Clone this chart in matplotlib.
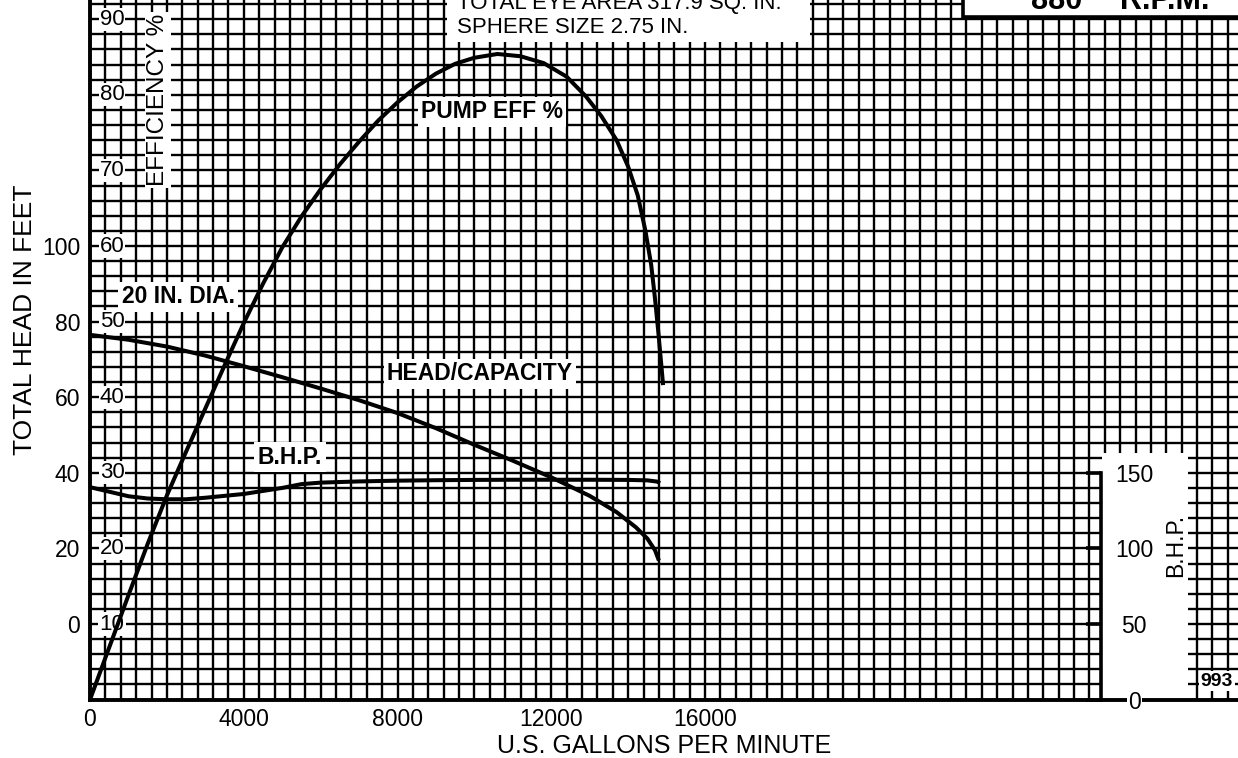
import matplotlib
matplotlib.use("Agg")
import matplotlib.pyplot as plt
from matplotlib.ticker import MultipleLocator, FixedLocator, NullFormatter
from matplotlib.patches import Rectangle

plt.rcParams['font.family'] = ['Liberation Sans', 'DejaVu Sans']

# ---------------- data ----------------
eff_gpm = [0, 500, 1000, 1500, 2000, 2500, 3000, 3500, 4000, 4500, 5000, 5500,
           6000, 6500, 7000, 7500, 8000, 8500, 9000, 9500, 10000, 10600, 11200,
           11800, 12400, 12900, 13300, 13700, 14000, 14250, 14450, 14600, 14700,
           14780, 14850, 14910]
eff_pct = [0, 6.9, 13.8, 20.6, 27.0, 32.8, 38.5, 44.2, 49.8, 55.0, 59.8, 63.9,
           67.5, 70.8, 73.8, 76.6, 79.0, 81.1, 82.8, 84.1, 84.9, 85.4, 85.1,
           84.2, 82.4, 79.8, 77.2, 74.0, 70.5, 66.7, 62.0, 57.5, 53.0,
           48.9, 45.0, 41.6]

head_gpm = [0, 1000, 2000, 3000, 4000, 5000, 6000, 7000, 8000, 9000, 10000,
            11000, 12000, 13000, 13700, 14200, 14500, 14700, 14800]
head_ft = [76.5, 75.2, 73.4, 71.0, 68.2, 65.3, 62.3, 59.2, 55.8, 51.8, 47.4,
           43.2, 38.8, 33.9, 29.6, 25.6, 22.6, 19.5, 16.8]

bhp_gpm = [0, 500, 1000, 1500, 2000, 2500, 3000, 4000, 5000, 5500, 6000, 7000,
           8000, 9000, 10000, 11000, 12000, 13000, 14000, 14500, 14750, 14830]
bhp_val = [140.5, 137.5, 134.5, 133.0, 132.5, 132.5, 133.5, 136.0, 140.0, 142.5,
           143.5, 144.3, 144.8, 145.1, 145.3, 145.4, 145.4, 145.4, 145.3, 145.0,
           144.2, 143.2]

x_ticks = [0, 4000, 8000, 12000, 16000]
head_ticks = [0, 20, 40, 60, 80, 100]
eff_ticks = [10, 20, 30, 40, 50, 60, 70, 80, 90]
bhp_ticks = [0, 50, 100, 150]


def head_to_eff(h):
    return h / 2.0 + 10.0


def eff_to_head(e):
    return (e - 10.0) * 2.0


def bhp_to_eff(b):
    return b / 5.0


def eff_to_bhp(e):
    return e * 5.0


# ---------------- figure / axes ----------------
W, H = 1238, 758
fig = plt.figure(figsize=(W / 100, H / 100), dpi=100)
AX_L, AX_B = 90, 699.6           # pixel position of the origin
GPM_PER_PX = 26.016
PX_PER_PCT = 7.56
ax = fig.add_axes([AX_L / W, (H - AX_B) / H, (W - AX_L) / W, AX_B / H])
ax.set_xlim(0, (W - AX_L) * GPM_PER_PX)
ax.set_ylim(0, AX_B / PX_PER_PCT)


def fx(px):
    return px / W


def fy(py):
    return 1 - py / H


GRID_KW = dict(color='black', linewidth=1.7)
ax.xaxis.set_major_locator(FixedLocator(x_ticks))
ax.xaxis.set_minor_locator(MultipleLocator(400))
ax.yaxis.set_major_locator(MultipleLocator(10))
ax.yaxis.set_minor_locator(MultipleLocator(2))
ax.yaxis.set_major_formatter(NullFormatter())
ax.grid(True, which='both', **GRID_KW)
ax.set_axisbelow('line')
ax.tick_params(axis='both', which='both', length=0)
ax.tick_params(axis='x', labelsize=16.5, pad=6)
ax.set_xticklabels([str(v) for v in x_ticks])
for s in ['top', 'right']:
    ax.spines[s].set_visible(False)
for s in ['left', 'bottom']:
    ax.spines[s].set_linewidth(2.8)
ax.set_xlabel('U.S. GALLONS PER MINUTE', fontsize=18, labelpad=2)

# head axis (outer left)
hsec = ax.secondary_yaxis('left', functions=(eff_to_head, head_to_eff))
hsec.set_yticks(head_ticks)
hsec.tick_params(length=0, labelsize=16.5, pad=7)
hsec.spines['left'].set_visible(False)
fig.text(fx(25), fy(320), 'TOTAL HEAD IN FEET', rotation=90, fontsize=19,
         ha='center', va='center')

# white boxes (panels)
ax.add_patch(Rectangle((fx(1102), fy(699)), fx(1188) - fx(1102), fy(453) - fy(699),
                       transform=fig.transFigure, facecolor='white',
                       edgecolor='none', zorder=2))
fig.add_artist(Rectangle((fx(447), fy(42)), fx(810) - fx(447), fy(-5) - fy(42),
                         transform=fig.transFigure, facecolor='white',
                         edgecolor='none', zorder=1))
fig.add_artist(Rectangle((fx(963), fy(17)), fx(1245) - fx(963), fy(-5) - fy(17),
                         transform=fig.transFigure, facecolor='white',
                         edgecolor='black', linewidth=2.6, zorder=1))

# BHP axis
bsec = ax.secondary_yaxis((1101 - AX_L) / (W - AX_L),
                          functions=(eff_to_bhp, bhp_to_eff))
bsec.set_zorder(3)
bsec.patch.set_visible(False)
bsec.set_yticks(bhp_ticks)
bsec.tick_params(direction='in', length=11, width=2.6, labelsize=16.5, pad=24)
bsec.spines['right'].set_bounds(0, 150)
bsec.spines['right'].set_linewidth(2.6)
for lab in bsec.get_yticklabels():
    lab.set_horizontalalignment('center')
    lab.set_bbox(dict(facecolor='white', edgecolor='none', pad=1))
fig.text(fx(1176), fy(545), 'B.H.P.', rotation=90, fontsize=16.5,
         ha='center', va='center', zorder=5)

# curves
LINE_KW = dict(color='black', linewidth=2.9, solid_joinstyle='round',
               solid_capstyle='butt', zorder=4)
ax.plot(eff_gpm, eff_pct, **LINE_KW)
ax.plot(head_gpm, [head_to_eff(h) for h in head_ft], **LINE_KW)
ax.plot(bhp_gpm, [bhp_to_eff(b) for b in bhp_val], **LINE_KW)

# efficiency labels inside grid
WB = dict(facecolor='white', edgecolor='none', pad=0.8)
for v in eff_ticks:
    ax.text((112 - AX_L) * GPM_PER_PX, v, str(v), fontsize=16, ha='center',
            va='center', bbox=WB, zorder=3)
ax.text((158 - AX_L) * GPM_PER_PX, (AX_B - 100) / PX_PER_PCT, 'EFFICIENCY %',
        rotation=90, fontsize=17.5, ha='center', va='center',
        bbox=dict(facecolor='white', edgecolor='none', pad=1.2), zorder=3)

# curve labels
LB = dict(facecolor='white', edgecolor='none', pad=2.5)
labels = [('PUMP EFF %', 492, 112), ('20 IN. DIA.', 178, 297),
          ('HEAD/CAPACITY', 480, 374), ('B.H.P.', 290, 457)]
for txt, px, py in labels:
    ax.text((px - AX_L) * GPM_PER_PX, (AX_B - py) / PX_PER_PCT, txt,
            fontsize=16.5, fontweight='bold', ha='center', va='center',
            bbox=LB, zorder=3)

ax.text((1217 - AX_L) * GPM_PER_PX, (AX_B - 681) / PX_PER_PCT, '993',
        fontsize=14, fontweight='bold', ha='center', va='center',
        bbox=dict(facecolor='white', edgecolor='none', pad=1), zorder=3)

# header texts (cut by the top edge as in the source)
fig.text(fx(457), fy(9), 'TOTAL EYE AREA 317.9 SQ. IN.', fontsize=16,
         ha='left', va='baseline', zorder=2)
fig.text(fx(457), fy(33), 'SPHERE SIZE 2.75 IN.', fontsize=16,
         ha='left', va='baseline', zorder=2)
fig.text(fx(1057), fy(9), '880', fontsize=22, fontweight='bold',
         ha='center', va='baseline', zorder=2)
fig.text(fx(1165), fy(9), 'R.P.M.', fontsize=22, fontweight='bold',
         ha='center', va='baseline', zorder=2)

fig.savefig('out.png', dpi=100)
